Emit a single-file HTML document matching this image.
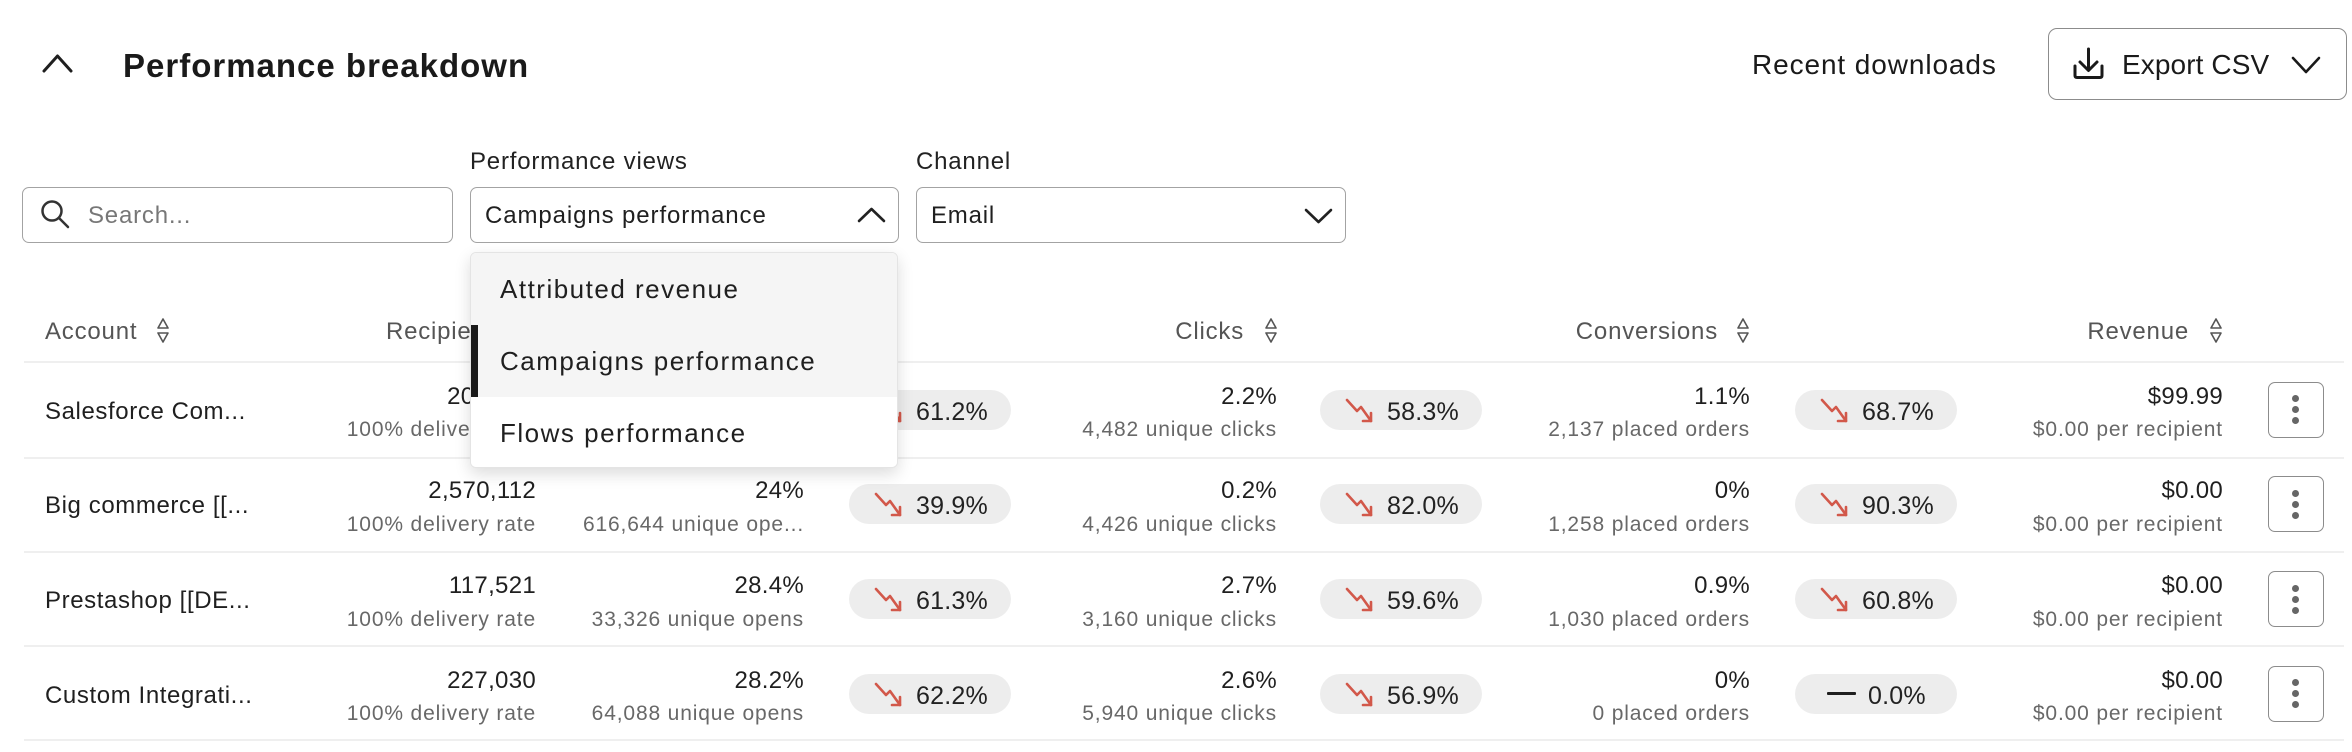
<!DOCTYPE html>
<html><head><meta charset="utf-8">
<style>
*{box-sizing:border-box;margin:0;padding:0}
html,body{width:2352px;height:752px;overflow:hidden;background:#fff}
body{position:relative;font-family:"Liberation Sans",Arial,sans-serif;color:#222}
.a{position:absolute;white-space:nowrap;line-height:1}
.m{font-size:24px;letter-spacing:0.3px;color:#1f1f1f}
.s{font-size:21px;letter-spacing:0.85px;color:#686868}
.h{font-size:24px;letter-spacing:0.8px;color:#555;top:320px}
.acc{font-size:24px;letter-spacing:0.6px;color:#1f1f1f;left:45px}
.sep{position:absolute;left:24px;width:2320px;height:2px;background:#efefef}
.pill{position:absolute;height:40px;width:162px;border-radius:20px;background:#ededed}
.pill svg{position:absolute;left:25px;top:8px}
.pill span{position:absolute;left:67px;top:10px;font-size:25px;line-height:1;color:#222;letter-spacing:0.2px;white-space:nowrap}
.keb{position:absolute;left:2268px;width:56px;height:56px;border:1.5px solid #8c8c8c;border-radius:7px;background:#fff}
.keb i{position:absolute;left:22.5px;width:7px;height:7px;border-radius:50%;background:#666}
.box{position:absolute;top:187px;height:56px;border:1.5px solid #a3a3a3;border-radius:7px;background:#fff}
.si{position:absolute;top:318px}
.menu{position:absolute;left:470px;top:252px;width:428px;height:216px;background:#fff;border:1px solid #e4e4e4;border-radius:6px;box-shadow:0 6px 16px rgba(0,0,0,0.14);overflow:hidden;z-index:10}
.mi{position:absolute;left:0;width:100%;height:72px}
.mt{position:absolute;left:29px;font-size:26px;letter-spacing:1.5px;color:#1f1f1f;line-height:1;white-space:nowrap}
</style></head><body>

<!-- Header -->
<svg class="a" style="left:0;top:0" width="120" height="100"><polyline points="44,71 57.5,56 71,71" fill="none" stroke="#1f1f1f" stroke-width="3" stroke-linecap="round" stroke-linejoin="round"/></svg>
<div class="a" style="left:123px;top:49px;font-size:33px;font-weight:bold;letter-spacing:1px;color:#1a1a1a">Performance breakdown</div>
<div class="a" style="left:1752px;top:51px;font-size:28px;letter-spacing:0.9px;color:#1a1a1a">Recent downloads</div>
<div style="position:absolute;left:2048px;top:28px;width:299px;height:72px;border:1.5px solid #8c8c8c;border-radius:9px;background:#fff"></div>
<svg class="a" style="left:2060px;top:40px" width="280" height="50" viewBox="2060 40 280 50">
<line x1="2088.5" y1="49" x2="2088.5" y2="70" stroke="#1a1a1a" stroke-width="3" stroke-linecap="round"/>
<polyline points="2080,62 2088.5,70.5 2097,62" fill="none" stroke="#1a1a1a" stroke-width="3" stroke-linecap="round" stroke-linejoin="round"/>
<path d="M2075 66 V75.5 Q2075 77.5 2077 77.5 H2100 Q2102 77.5 2102 75.5 V66" fill="none" stroke="#1a1a1a" stroke-width="3" stroke-linecap="round"/>
<polyline points="2293,58 2306,72 2319,58" fill="none" stroke="#1a1a1a" stroke-width="2.6" stroke-linecap="round" stroke-linejoin="round"/>
</svg>
<div class="a" style="left:2122px;top:51px;font-size:28px;letter-spacing:0.1px;color:#1a1a1a">Export CSV</div>

<!-- Filters -->
<div class="a" style="left:470px;top:150px;font-size:24px;letter-spacing:0.8px;color:#222">Performance views</div>
<div class="a" style="left:916px;top:150px;font-size:24px;letter-spacing:0.8px;color:#222">Channel</div>
<div class="box" style="left:22px;width:431px"></div>
<div class="box" style="left:470px;width:429px"></div>
<div class="box" style="left:916px;width:430px"></div>
<svg class="a" style="left:0;top:180px" width="1360" height="70" viewBox="0 180 1360 70">
<circle cx="52" cy="211" r="9.5" fill="none" stroke="#333" stroke-width="2.5"/>
<line x1="59" y1="218" x2="68" y2="227" stroke="#333" stroke-width="2.5" stroke-linecap="round"/>
<polyline points="859,221 871.5,209 884,221" fill="none" stroke="#222" stroke-width="2.6" stroke-linecap="round" stroke-linejoin="round"/>
<polyline points="1306,210 1318.5,222 1331,210" fill="none" stroke="#222" stroke-width="2.6" stroke-linecap="round" stroke-linejoin="round"/>
</svg>
<div class="a" style="left:88px;top:204px;font-size:24px;letter-spacing:0.8px;color:#777">Search...</div>
<div class="a" style="left:485px;top:204px;font-size:24px;letter-spacing:0.9px;color:#1f1f1f">Campaigns performance</div>
<div class="a" style="left:931px;top:204px;font-size:24px;letter-spacing:0.8px;color:#1f1f1f">Email</div>

<!-- Table header -->
<div class="a h" style="left:45px">Account</div>
<div class="a h" style="right:1846px">Recipients</div>
<div class="a h" style="right:1578px">Opens</div>
<div class="a h" style="right:1108px">Clicks</div>
<div class="a h" style="right:634px">Conversions</div>
<div class="a h" style="right:163px">Revenue</div>
<svg class="si" style="left:157px" width="12" height="26"><polygon points="6,1 11,10 1,10" fill="none" stroke="#555" stroke-width="1.6" stroke-linejoin="round"/><polygon points="1,15 11,15 6,24" fill="none" stroke="#555" stroke-width="1.6" stroke-linejoin="round"/></svg>
<svg class="si" style="left:524px" width="12" height="26"><polygon points="6,1 11,10 1,10" fill="none" stroke="#555" stroke-width="1.6" stroke-linejoin="round"/><polygon points="1,15 11,15 6,24" fill="none" stroke="#555" stroke-width="1.6" stroke-linejoin="round"/></svg>
<svg class="si" style="left:1265px" width="12" height="26"><polygon points="6,1 11,10 1,10" fill="none" stroke="#555" stroke-width="1.6" stroke-linejoin="round"/><polygon points="1,15 11,15 6,24" fill="none" stroke="#555" stroke-width="1.6" stroke-linejoin="round"/></svg>
<svg class="si" style="left:1737px" width="12" height="26"><polygon points="6,1 11,10 1,10" fill="none" stroke="#555" stroke-width="1.6" stroke-linejoin="round"/><polygon points="1,15 11,15 6,24" fill="none" stroke="#555" stroke-width="1.6" stroke-linejoin="round"/></svg>
<svg class="si" style="left:2210px" width="12" height="26"><polygon points="6,1 11,10 1,10" fill="none" stroke="#555" stroke-width="1.6" stroke-linejoin="round"/><polygon points="1,15 11,15 6,24" fill="none" stroke="#555" stroke-width="1.6" stroke-linejoin="round"/></svg>

<div class="sep" style="top:361px"></div>
<div class="sep" style="top:457px"></div>
<div class="sep" style="top:551px"></div>
<div class="sep" style="top:645px"></div>
<div class="sep" style="top:739px"></div>

<!-- Row 1 -->
<div class="a acc" style="top:400px">Salesforce Com...</div>
<div class="a m" style="right:1816px;top:385px">208,412</div>
<div class="a s" style="right:1816px;top:419px">100% delivery rate</div>
<div class="a m" style="right:1548px;top:385px">27.1%</div>
<div class="a s" style="right:1548px;top:419px">56,512 unique opens</div>
<div class="pill" style="left:849px;top:389.5px"><svg width="30" height="26"><polyline points="2,2 12,13 16,9 26,23" fill="none" stroke="#d2584a" stroke-width="2.6" stroke-linecap="round" stroke-linejoin="round"/><polyline points="18,23 26,23 26,15" fill="none" stroke="#d2584a" stroke-width="2.6" stroke-linecap="round" stroke-linejoin="round"/></svg><span>61.2%</span></div>
<div class="a m" style="right:1075px;top:385px">2.2%</div>
<div class="a s" style="right:1075px;top:419px">4,482 unique clicks</div>
<div class="pill" style="left:1320px;top:389.5px"><svg width="30" height="26"><polyline points="2,2 12,13 16,9 26,23" fill="none" stroke="#d2584a" stroke-width="2.6" stroke-linecap="round" stroke-linejoin="round"/><polyline points="18,23 26,23 26,15" fill="none" stroke="#d2584a" stroke-width="2.6" stroke-linecap="round" stroke-linejoin="round"/></svg><span>58.3%</span></div>
<div class="a m" style="right:602px;top:385px">1.1%</div>
<div class="a s" style="right:602px;top:419px">2,137 placed orders</div>
<div class="pill" style="left:1795px;top:389.5px"><svg width="30" height="26"><polyline points="2,2 12,13 16,9 26,23" fill="none" stroke="#d2584a" stroke-width="2.6" stroke-linecap="round" stroke-linejoin="round"/><polyline points="18,23 26,23 26,15" fill="none" stroke="#d2584a" stroke-width="2.6" stroke-linecap="round" stroke-linejoin="round"/></svg><span>68.7%</span></div>
<div class="a m" style="right:129px;top:385px">$99.99</div>
<div class="a s" style="right:129px;top:419px">$0.00 per recipient</div>
<div class="keb" style="top:381.5px"><i style="top:12.5px"></i><i style="top:23.5px"></i><i style="top:34.5px"></i></div>

<!-- Row 2 -->
<div class="a acc" style="top:494px">Big commerce [[...</div>
<div class="a m" style="right:1816px;top:479px">2,570,112</div>
<div class="a s" style="right:1816px;top:514px">100% delivery rate</div>
<div class="a m" style="right:1548px;top:479px">24%</div>
<div class="a s" style="right:1548px;top:514px">616,644 unique ope...</div>
<div class="pill" style="left:849px;top:484px"><svg width="30" height="26"><polyline points="2,2 12,13 16,9 26,23" fill="none" stroke="#d2584a" stroke-width="2.6" stroke-linecap="round" stroke-linejoin="round"/><polyline points="18,23 26,23 26,15" fill="none" stroke="#d2584a" stroke-width="2.6" stroke-linecap="round" stroke-linejoin="round"/></svg><span>39.9%</span></div>
<div class="a m" style="right:1075px;top:479px">0.2%</div>
<div class="a s" style="right:1075px;top:514px">4,426 unique clicks</div>
<div class="pill" style="left:1320px;top:484px"><svg width="30" height="26"><polyline points="2,2 12,13 16,9 26,23" fill="none" stroke="#d2584a" stroke-width="2.6" stroke-linecap="round" stroke-linejoin="round"/><polyline points="18,23 26,23 26,15" fill="none" stroke="#d2584a" stroke-width="2.6" stroke-linecap="round" stroke-linejoin="round"/></svg><span>82.0%</span></div>
<div class="a m" style="right:602px;top:479px">0%</div>
<div class="a s" style="right:602px;top:514px">1,258 placed orders</div>
<div class="pill" style="left:1795px;top:484px"><svg width="30" height="26"><polyline points="2,2 12,13 16,9 26,23" fill="none" stroke="#d2584a" stroke-width="2.6" stroke-linecap="round" stroke-linejoin="round"/><polyline points="18,23 26,23 26,15" fill="none" stroke="#d2584a" stroke-width="2.6" stroke-linecap="round" stroke-linejoin="round"/></svg><span>90.3%</span></div>
<div class="a m" style="right:129px;top:479px">$0.00</div>
<div class="a s" style="right:129px;top:514px">$0.00 per recipient</div>
<div class="keb" style="top:476px"><i style="top:12.5px"></i><i style="top:23.5px"></i><i style="top:34.5px"></i></div>

<!-- Row 3 -->
<div class="a acc" style="top:589px">Prestashop [[DE...</div>
<div class="a m" style="right:1816px;top:574px">117,521</div>
<div class="a s" style="right:1816px;top:609px">100% delivery rate</div>
<div class="a m" style="right:1548px;top:574px">28.4%</div>
<div class="a s" style="right:1548px;top:609px">33,326 unique opens</div>
<div class="pill" style="left:849px;top:579px"><svg width="30" height="26"><polyline points="2,2 12,13 16,9 26,23" fill="none" stroke="#d2584a" stroke-width="2.6" stroke-linecap="round" stroke-linejoin="round"/><polyline points="18,23 26,23 26,15" fill="none" stroke="#d2584a" stroke-width="2.6" stroke-linecap="round" stroke-linejoin="round"/></svg><span>61.3%</span></div>
<div class="a m" style="right:1075px;top:574px">2.7%</div>
<div class="a s" style="right:1075px;top:609px">3,160 unique clicks</div>
<div class="pill" style="left:1320px;top:579px"><svg width="30" height="26"><polyline points="2,2 12,13 16,9 26,23" fill="none" stroke="#d2584a" stroke-width="2.6" stroke-linecap="round" stroke-linejoin="round"/><polyline points="18,23 26,23 26,15" fill="none" stroke="#d2584a" stroke-width="2.6" stroke-linecap="round" stroke-linejoin="round"/></svg><span>59.6%</span></div>
<div class="a m" style="right:602px;top:574px">0.9%</div>
<div class="a s" style="right:602px;top:609px">1,030 placed orders</div>
<div class="pill" style="left:1795px;top:579px"><svg width="30" height="26"><polyline points="2,2 12,13 16,9 26,23" fill="none" stroke="#d2584a" stroke-width="2.6" stroke-linecap="round" stroke-linejoin="round"/><polyline points="18,23 26,23 26,15" fill="none" stroke="#d2584a" stroke-width="2.6" stroke-linecap="round" stroke-linejoin="round"/></svg><span>60.8%</span></div>
<div class="a m" style="right:129px;top:574px">$0.00</div>
<div class="a s" style="right:129px;top:609px">$0.00 per recipient</div>
<div class="keb" style="top:571px"><i style="top:12.5px"></i><i style="top:23.5px"></i><i style="top:34.5px"></i></div>

<!-- Row 4 -->
<div class="a acc" style="top:684px">Custom Integrati...</div>
<div class="a m" style="right:1816px;top:669px">227,030</div>
<div class="a s" style="right:1816px;top:703px">100% delivery rate</div>
<div class="a m" style="right:1548px;top:669px">28.2%</div>
<div class="a s" style="right:1548px;top:703px">64,088 unique opens</div>
<div class="pill" style="left:849px;top:673.5px"><svg width="30" height="26"><polyline points="2,2 12,13 16,9 26,23" fill="none" stroke="#d2584a" stroke-width="2.6" stroke-linecap="round" stroke-linejoin="round"/><polyline points="18,23 26,23 26,15" fill="none" stroke="#d2584a" stroke-width="2.6" stroke-linecap="round" stroke-linejoin="round"/></svg><span>62.2%</span></div>
<div class="a m" style="right:1075px;top:669px">2.6%</div>
<div class="a s" style="right:1075px;top:703px">5,940 unique clicks</div>
<div class="pill" style="left:1320px;top:673.5px"><svg width="30" height="26"><polyline points="2,2 12,13 16,9 26,23" fill="none" stroke="#d2584a" stroke-width="2.6" stroke-linecap="round" stroke-linejoin="round"/><polyline points="18,23 26,23 26,15" fill="none" stroke="#d2584a" stroke-width="2.6" stroke-linecap="round" stroke-linejoin="round"/></svg><span>56.9%</span></div>
<div class="a m" style="right:602px;top:669px">0%</div>
<div class="a s" style="right:602px;top:703px">0 placed orders</div>
<div class="pill" style="left:1795px;top:673.5px"><div style="position:absolute;left:32px;top:18.5px;width:29px;height:3px;background:#1f1f1f;border-radius:1px"></div><span style="left:73px">0.0%</span></div>
<div class="a m" style="right:129px;top:669px">$0.00</div>
<div class="a s" style="right:129px;top:703px">$0.00 per recipient</div>
<div class="keb" style="top:665.5px"><i style="top:12.5px"></i><i style="top:23.5px"></i><i style="top:34.5px"></i></div>

<!-- Dropdown menu -->
<div class="menu">
  <div class="mi" style="top:0;background:#f5f5f5"><div class="mt" style="top:23px">Attributed revenue</div></div>
  <div class="mi" style="top:72px;background:#f5f5f5"><div style="position:absolute;left:0;top:0;width:7px;height:72px;background:#1a1a1a"></div><div class="mt" style="top:23px">Campaigns performance</div></div>
  <div class="mi" style="top:144px;background:#fff"><div class="mt" style="top:23px">Flows performance</div></div>
</div>

</body></html>
